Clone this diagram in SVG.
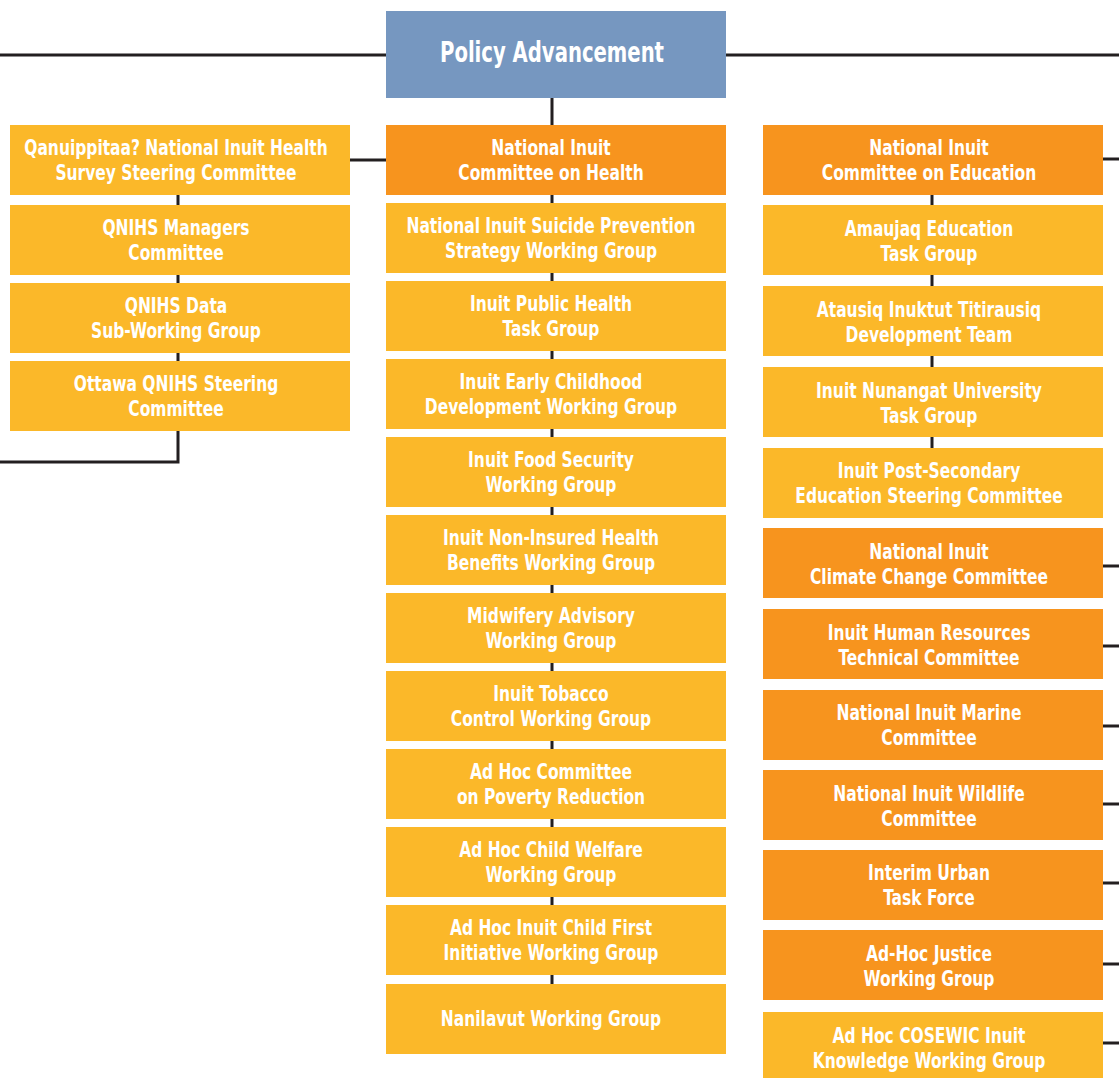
<svg xmlns="http://www.w3.org/2000/svg" width="1119" height="1078" viewBox="0 0 1119 1078">
  <style>
    .ln { stroke: #231f20; stroke-width: 3; fill: none; }
    .blue { fill: #7697c0; }
    .org { fill: #f7941e; }
    .yel { fill: #fbb829; }
    text { font-family: "Liberation Sans Narrow", "DejaVu Sans Condensed", "Liberation Sans", sans-serif; font-weight: bold; fill: #ffffff; text-anchor: middle; font-size: 21px; }
    .title { font-size: 28px; }
  </style>
  <defs>
    <!-- every node is 340 x 70; labels are narrowed horizontally -->
    <rect id="box" x="0" y="0" width="340" height="70"/>
  </defs>

  <!-- connectors -->
  <g id="connectors">
    <line class="ln" x1="0" y1="55" x2="386" y2="55"/>
    <line class="ln" x1="726" y1="55" x2="1119" y2="55"/>
    <line class="ln" x1="552" y1="98" x2="552" y2="984"/>
    <line class="ln" x1="350" y1="160" x2="386" y2="160"/>
    <polyline class="ln" points="178,195 178,462 0,462"/>
    <line class="ln" x1="932" y1="195" x2="932" y2="448"/>
    <line class="ln" x1="1103" y1="159" x2="1119" y2="159"/>
    <line class="ln" x1="1103" y1="566" x2="1119" y2="566"/>
    <line class="ln" x1="1103" y1="646" x2="1119" y2="646"/>
    <line class="ln" x1="1103" y1="726" x2="1119" y2="726"/>
    <line class="ln" x1="1103" y1="804" x2="1119" y2="804"/>
    <line class="ln" x1="1103" y1="883" x2="1119" y2="883"/>
    <line class="ln" x1="1103" y1="964" x2="1119" y2="964"/>
    <line class="ln" x1="1103" y1="1043" x2="1119" y2="1043"/>
  </g>

  <!-- top node -->
  <g id="policy-advancement">
    <rect class="blue" x="386" y="11" width="340" height="87"/>
    <g transform="translate(552,62) scale(0.78,1)"><text class="title" x="0" y="0">Policy Advancement</text></g>
  </g>

  <!-- left column (label centre x = 176) -->
  <g id="qnihs-steering" transform="translate(176,125)">
    <use href="#box" class="yel" x="-166"/>
    <g transform="scale(0.82,1)"><text y="30">Qanuippitaa? National Inuit Health</text><text y="55">Survey Steering Committee</text></g>
  </g>
  <g id="qnihs-managers" transform="translate(176,205)">
    <use href="#box" class="yel" x="-166"/>
    <g transform="scale(0.82,1)"><text y="30">QNIHS Managers</text><text y="55">Committee</text></g>
  </g>
  <g id="qnihs-data" transform="translate(176,283)">
    <use href="#box" class="yel" x="-166"/>
    <g transform="scale(0.82,1)"><text y="30">QNIHS Data</text><text y="55">Sub-Working Group</text></g>
  </g>
  <g id="ottawa-qnihs" transform="translate(176,361)">
    <use href="#box" class="yel" x="-166"/>
    <g transform="scale(0.82,1)"><text y="30">Ottawa QNIHS Steering</text><text y="55">Committee</text></g>
  </g>

  <!-- centre column (label centre x = 551) -->
  <g id="nic-health" transform="translate(551,125)">
    <use href="#box" class="org" x="-165"/>
    <g transform="scale(0.82,1)"><text y="30">National Inuit</text><text y="55">Committee on Health</text></g>
  </g>
  <g id="suicide-prevention" transform="translate(551,203)">
    <use href="#box" class="yel" x="-165"/>
    <g transform="scale(0.82,1)"><text y="30">National Inuit Suicide Prevention</text><text y="55">Strategy Working Group</text></g>
  </g>
  <g id="public-health" transform="translate(551,281)">
    <use href="#box" class="yel" x="-165"/>
    <g transform="scale(0.82,1)"><text y="30">Inuit Public Health</text><text y="55">Task Group</text></g>
  </g>
  <g id="early-childhood" transform="translate(551,359)">
    <use href="#box" class="yel" x="-165"/>
    <g transform="scale(0.82,1)"><text y="30">Inuit Early Childhood</text><text y="55">Development Working Group</text></g>
  </g>
  <g id="food-security" transform="translate(551,437)">
    <use href="#box" class="yel" x="-165"/>
    <g transform="scale(0.82,1)"><text y="30">Inuit Food Security</text><text y="55">Working Group</text></g>
  </g>
  <g id="nihb" transform="translate(551,515)">
    <use href="#box" class="yel" x="-165"/>
    <g transform="scale(0.82,1)"><text y="30">Inuit Non-Insured Health</text><text y="55">Benefits Working Group</text></g>
  </g>
  <g id="midwifery" transform="translate(551,593)">
    <use href="#box" class="yel" x="-165"/>
    <g transform="scale(0.82,1)"><text y="30">Midwifery Advisory</text><text y="55">Working Group</text></g>
  </g>
  <g id="tobacco" transform="translate(551,671)">
    <use href="#box" class="yel" x="-165"/>
    <g transform="scale(0.82,1)"><text y="30">Inuit Tobacco</text><text y="55">Control Working Group</text></g>
  </g>
  <g id="poverty" transform="translate(551,749)">
    <use href="#box" class="yel" x="-165"/>
    <g transform="scale(0.82,1)"><text y="30">Ad Hoc Committee</text><text y="55">on Poverty Reduction</text></g>
  </g>
  <g id="child-welfare" transform="translate(551,827)">
    <use href="#box" class="yel" x="-165"/>
    <g transform="scale(0.82,1)"><text y="30">Ad Hoc Child Welfare</text><text y="55">Working Group</text></g>
  </g>
  <g id="child-first" transform="translate(551,905)">
    <use href="#box" class="yel" x="-165"/>
    <g transform="scale(0.82,1)"><text y="30">Ad Hoc Inuit Child First</text><text y="55">Initiative Working Group</text></g>
  </g>
  <g id="nanilavut" transform="translate(551,984)">
    <use href="#box" class="yel" x="-165"/>
    <g transform="scale(0.82,1)"><text y="42">Nanilavut Working Group</text></g>
  </g>

  <!-- right column (label centre x = 929) -->
  <g id="nic-education" transform="translate(929,125)">
    <use href="#box" class="org" x="-166"/>
    <g transform="scale(0.82,1)"><text y="30">National Inuit</text><text y="55">Committee on Education</text></g>
  </g>
  <g id="amaujaq" transform="translate(929,205)">
    <use href="#box" class="yel" x="-166"/>
    <g transform="scale(0.82,1)"><text y="31">Amaujaq Education</text><text y="56">Task Group</text></g>
  </g>
  <g id="atausiq" transform="translate(929,286)">
    <use href="#box" class="yel" x="-166"/>
    <g transform="scale(0.82,1)"><text y="31">Atausiq Inuktut Titirausiq</text><text y="56">Development Team</text></g>
  </g>
  <g id="university" transform="translate(929,367)">
    <use href="#box" class="yel" x="-166"/>
    <g transform="scale(0.82,1)"><text y="31">Inuit Nunangat University</text><text y="56">Task Group</text></g>
  </g>
  <g id="post-secondary" transform="translate(929,448)">
    <use href="#box" class="yel" x="-166"/>
    <g transform="scale(0.82,1)"><text y="30">Inuit Post-Secondary</text><text y="55">Education Steering Committee</text></g>
  </g>
  <g id="climate-change" transform="translate(929,528)">
    <use href="#box" class="org" x="-166"/>
    <g transform="scale(0.82,1)"><text y="31">National Inuit</text><text y="56">Climate Change Committee</text></g>
  </g>
  <g id="human-resources" transform="translate(929,609)">
    <use href="#box" class="org" x="-166"/>
    <g transform="scale(0.82,1)"><text y="31">Inuit Human Resources</text><text y="56">Technical Committee</text></g>
  </g>
  <g id="marine" transform="translate(929,690)">
    <use href="#box" class="org" x="-166"/>
    <g transform="scale(0.82,1)"><text y="30">National Inuit Marine</text><text y="55">Committee</text></g>
  </g>
  <g id="wildlife" transform="translate(929,770)">
    <use href="#box" class="org" x="-166"/>
    <g transform="scale(0.82,1)"><text y="31">National Inuit Wildlife</text><text y="56">Committee</text></g>
  </g>
  <g id="urban" transform="translate(929,850)">
    <use href="#box" class="org" x="-166"/>
    <g transform="scale(0.82,1)"><text y="30">Interim Urban</text><text y="55">Task Force</text></g>
  </g>
  <g id="justice" transform="translate(929,930)">
    <use href="#box" class="org" x="-166"/>
    <g transform="scale(0.82,1)"><text y="31">Ad-Hoc Justice</text><text y="56">Working Group</text></g>
  </g>
  <g id="cosewic" transform="translate(929,1012)">
    <use href="#box" class="yel" x="-166"/>
    <g transform="scale(0.82,1)"><text y="31">Ad Hoc COSEWIC Inuit</text><text y="56">Knowledge Working Group</text></g>
  </g>
</svg>
